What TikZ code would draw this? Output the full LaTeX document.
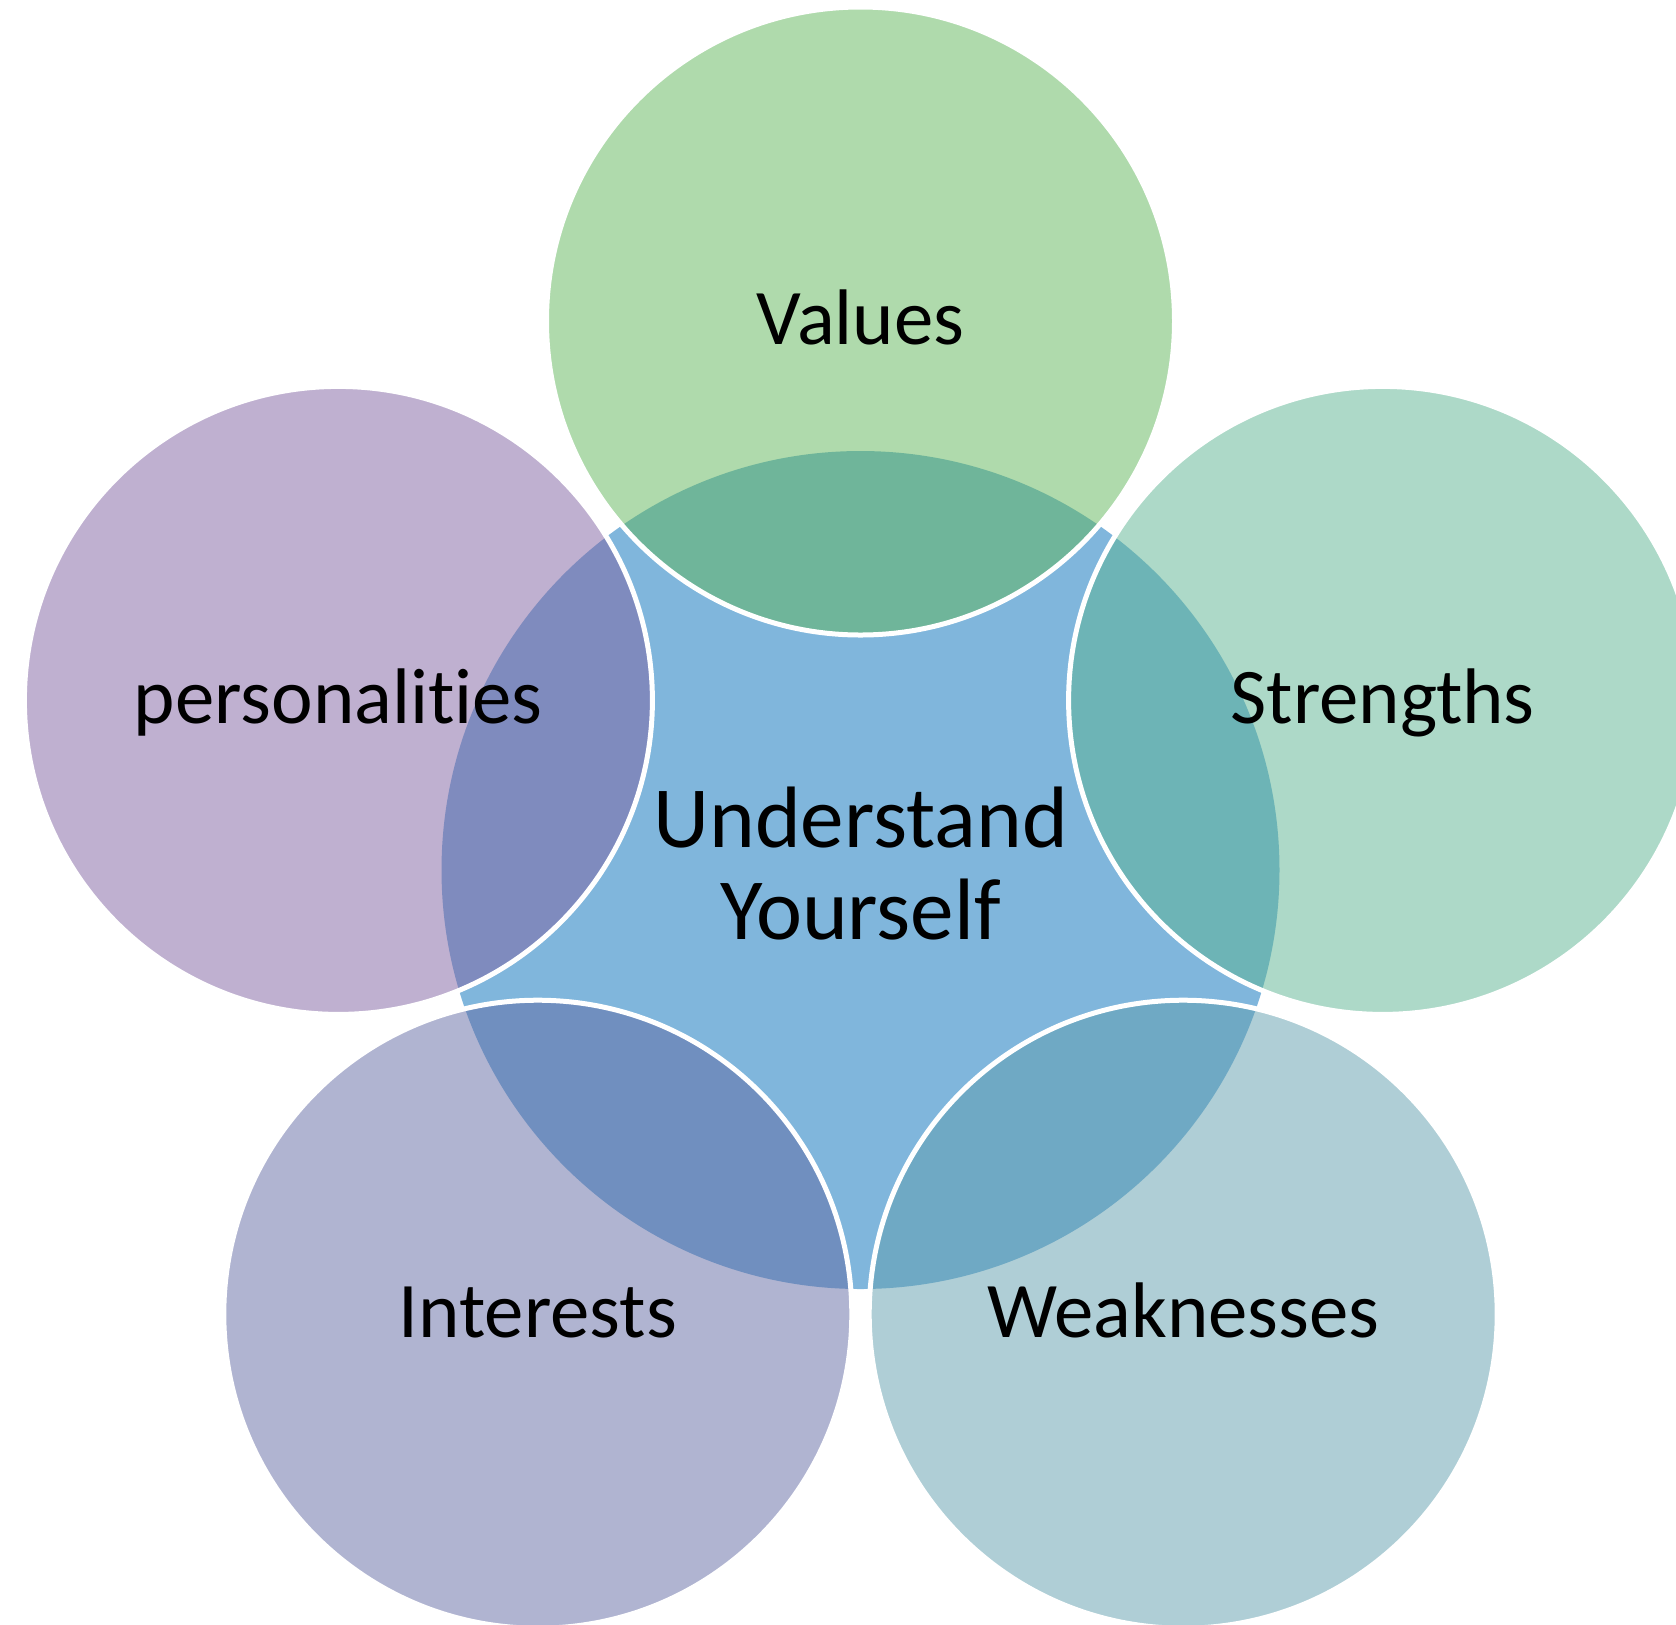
\documentclass[tikz,border=0pt]{standalone}
\usepackage{fontspec}
\setmainfont{Carlito}[Ligatures=NoCommon]
\definecolor{cblue}{HTML}{80B6DC}
\definecolor{cgreen}{HTML}{5FB559}
\definecolor{cteal}{HTML}{5BB391}
\definecolor{cslate}{HTML}{5F9DAD}
\definecolor{cindigo}{HTML}{6169A3}
\definecolor{cpurple}{HTML}{7F61A1}
\begin{document}
\begin{tikzpicture}[x=0.5pt,y=-0.5pt,
  corecircle/.style={circle, minimum size=419pt, inner sep=0pt, fill=cblue},
  outer/.style={circle, minimum size=314pt, inner sep=0pt, draw=white, line width=2.5pt, fill opacity=0.5},
  lbl/.style={font=\fontsize{39.4}{46}\selectfont, anchor=base, inner sep=0pt, text=black},
  corelbl/.style={font=\fontsize{43.6}{46}\selectfont, align=center, inner sep=0pt, text=black}]
\useasboundingbox (0,0) rectangle (1676,1624);
\clip (0,0) rectangle (1676,1624);
\node[corecircle] (core) at (860.5,870) {};
\node[outer, fill=cgreen] (values) at (860.5,321) {};
\node[outer, fill=cteal] (strengths) at (1382.6,700.4) {};
\node[outer, fill=cslate] (weaknesses) at (1183.2,1314.2) {};
\node[outer, fill=cindigo] (interests) at (537.8,1314.2) {};
\node[outer, fill=cpurple] (personalities) at (338.4,700.4) {};
\node[corelbl] (tcore) at (860.5,864) {Understand\\Yourself};
\node[lbl] (tvalues) at (860.5,344) {Values};
\node[lbl] (tstrengths) at (1382.6,723.4) {Strengths};
\node[lbl] (tweaknesses) at (1183.2,1337.2) {Weaknesses};
\node[lbl] (tinterests) at (537.8,1337.2) {Interests};
\node[lbl] (tpersonalities) at (338.4,723.4) {personalities};
\end{tikzpicture}
\end{document}
